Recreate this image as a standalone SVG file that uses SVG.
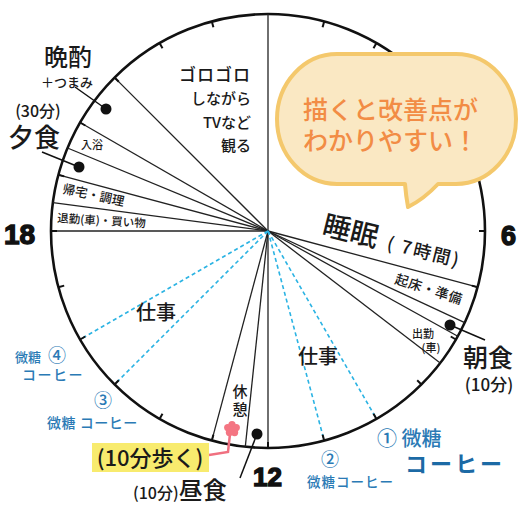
<svg xmlns="http://www.w3.org/2000/svg" width="520" height="506" viewBox="0 0 520 506">
<style>
text{font-family:"Noto Sans CJK JP","Noto Sans",sans-serif;fill:#1a1a1a;font-weight:500}
.rad{stroke:#222;stroke-width:1.3;fill:none}
.dash{stroke:#2bb3e3;stroke-width:1.6;stroke-dasharray:4 3;fill:none}
.tick{stroke:#111;stroke-width:2}
.ptr{stroke:#111;stroke-width:1.5;fill:none}
.dot{fill:#111}
.num{font-family:"Liberation Sans",Arial,sans-serif;font-weight:bold;stroke:#111;stroke-width:1.4;fill:#111}
.blue{fill:#2a7ab5}
.blue2{fill:#1c6aa5;font-weight:bold}
</style>
<rect width="520" height="506" fill="#fff"/>
<g id="clock">
<circle cx="268" cy="231" r="217" fill="#fff" stroke="#111" stroke-width="2.6"/>
</g>
<g id="connectors">
<line class="rad" x1="268" y1="231" x2="268" y2="14"/>
<line class="rad" x1="268" y1="231" x2="477.6" y2="287.2"/>
<line class="rad" x1="268" y1="231" x2="464.7" y2="322.7"/>
<line class="rad" x1="268" y1="231" x2="457.8" y2="336.2"/>
<line class="rad" x1="268" y1="231" x2="440.2" y2="363.1"/>
<line class="rad" x1="268" y1="231" x2="268" y2="448"/>
<line class="rad" x1="268" y1="231" x2="245.3" y2="446.8"/>
<line class="rad" x1="268" y1="231" x2="211.8" y2="440.6"/>
<line class="rad" x1="268" y1="231" x2="51" y2="231"/>
<line class="rad" x1="268" y1="231" x2="52.9" y2="202.7"/>
<line class="rad" x1="268" y1="231" x2="58.4" y2="174.8"/>
<line class="rad" x1="268" y1="231" x2="67.5" y2="148"/>
<line class="rad" x1="268" y1="231" x2="80.1" y2="122.5"/>
<line class="rad" x1="268" y1="231" x2="114.6" y2="77.6"/>
<line class="dash" x1="268" y1="231" x2="376.5" y2="418.9"/>
<line class="dash" x1="268" y1="231" x2="324.2" y2="440.6"/>
<line class="dash" x1="268" y1="231" x2="114.6" y2="384.4"/>
<line class="dash" x1="268" y1="231" x2="80.1" y2="339.5"/>
<g id="ticks">
<line class="tick" x1="268" y1="14" x2="268" y2="20" transform="rotate(15 268 231)"/>
<line class="tick" x1="268" y1="14" x2="268" y2="20" transform="rotate(30 268 231)"/>
<line class="tick" x1="268" y1="14" x2="268" y2="20" transform="rotate(45 268 231)"/>
<line class="tick" x1="268" y1="14" x2="268" y2="20" transform="rotate(60 268 231)"/>
<line class="tick" x1="268" y1="14" x2="268" y2="20" transform="rotate(75 268 231)"/>
<line class="tick" x1="268" y1="14" x2="268" y2="20" transform="rotate(90 268 231)"/>
<line class="tick" x1="268" y1="14" x2="268" y2="20" transform="rotate(105 268 231)"/>
<line class="tick" x1="268" y1="14" x2="268" y2="20" transform="rotate(120 268 231)"/>
<line class="tick" x1="268" y1="14" x2="268" y2="20" transform="rotate(135 268 231)"/>
<line class="tick" x1="268" y1="14" x2="268" y2="20" transform="rotate(150 268 231)"/>
<line class="tick" x1="268" y1="14" x2="268" y2="20" transform="rotate(165 268 231)"/>
<line class="tick" x1="268" y1="14" x2="268" y2="20" transform="rotate(180 268 231)"/>
<line class="tick" x1="268" y1="14" x2="268" y2="20" transform="rotate(195 268 231)"/>
<line class="tick" x1="268" y1="14" x2="268" y2="20" transform="rotate(210 268 231)"/>
<line class="tick" x1="268" y1="14" x2="268" y2="20" transform="rotate(225 268 231)"/>
<line class="tick" x1="268" y1="14" x2="268" y2="20" transform="rotate(240 268 231)"/>
<line class="tick" x1="268" y1="14" x2="268" y2="20" transform="rotate(255 268 231)"/>
<line class="tick" x1="268" y1="14" x2="268" y2="20" transform="rotate(270 268 231)"/>
<line class="tick" x1="268" y1="14" x2="268" y2="20" transform="rotate(285 268 231)"/>
<line class="tick" x1="268" y1="14" x2="268" y2="20" transform="rotate(300 268 231)"/>
<line class="tick" x1="268" y1="14" x2="268" y2="20" transform="rotate(315 268 231)"/>
<line class="tick" x1="268" y1="14" x2="268" y2="20" transform="rotate(330 268 231)"/>
<line class="tick" x1="268" y1="14" x2="268" y2="20" transform="rotate(345 268 231)"/>
</g>
<line class="ptr" x1="450" y1="325" x2="485" y2="340"/>
<line class="ptr" x1="257" y1="434" x2="240" y2="478"/>
<line class="ptr" x1="42" y1="152" x2="79" y2="167"/>
<line class="ptr" x1="75" y1="87" x2="106" y2="109"/>
<polyline points="230,434 228,452 209,455" fill="none" stroke="#f07080" stroke-width="2.5"/>
</g>
<g id="dots">
<circle class="dot" cx="450" cy="325" r="5.5"/>
<circle class="dot" cx="257" cy="434" r="5.5"/>
<circle class="dot" cx="79" cy="167" r="5.5"/>
<circle class="dot" cx="106" cy="109" r="5.5"/>
</g>
<g id="hours">
<text class="num" x="4" y="244" font-size="28">18</text>
<text class="num" x="501" y="245" font-size="27">6</text>
<text class="num" x="253" y="486" font-size="26">12</text>
</g>
<g id="sleep">
<text font-size="28" font-weight="bold" transform="translate(321 234) rotate(14)">睡眠</text>
<text font-size="18" transform="translate(386 249) rotate(14)" letter-spacing="2">( 7時間)</text>
</g>
<g id="wake"><text font-size="13.5" transform="translate(394 283) rotate(18)" letter-spacing="0.5">起床・準備</text></g>
<g id="commute"><text font-size="11" x="423" y="338" text-anchor="middle">出勤</text><text font-size="11" x="431" y="352" text-anchor="middle">(車)</text></g>
<g id="breakfast"><text font-size="25" x="488" y="367" text-anchor="middle">朝食</text><text font-size="17" x="489" y="391" text-anchor="middle">(10分)</text></g>
<g id="work-am"><text font-size="20" x="318" y="364" text-anchor="middle">仕事</text></g>
<g id="work-pm"><text font-size="20" x="156" y="320" text-anchor="middle">仕事</text></g>
<g id="break"><text font-size="15" x="240" y="397" text-anchor="middle">休</text><text font-size="15" x="240" y="415" text-anchor="middle">憩</text></g>
<g id="walk">
<rect x="92" y="443" width="117" height="29" fill="#f8eb6e"/>
<text font-size="22" x="150" y="466" text-anchor="middle">(10分歩く)</text>
<g fill="#f47582" transform="translate(232 429)">
<circle cx="0" cy="-4.5" r="3.6"/><circle cx="4.3" cy="-1.4" r="3.6"/><circle cx="2.6" cy="3.6" r="3.6"/><circle cx="-2.6" cy="3.6" r="3.6"/><circle cx="-4.3" cy="-1.4" r="3.6"/><circle r="3"/>
</g>
</g>
<g id="lunch"><text x="133" y="499"><tspan font-size="16">(10分)</tspan><tspan font-size="24">昼食</tspan></text></g>
<g id="coffee1"><text class="blue" font-size="20" x="377" y="446">① 微糖</text><text class="blue2" font-size="22" x="405" y="472" letter-spacing="3">コーヒー</text></g>
<g id="coffee2"><text class="blue" font-size="18" x="330" y="466" text-anchor="middle">②</text><text class="blue" font-size="13.5" x="307" y="487" letter-spacing="1">微糖コーヒー</text></g>
<g id="coffee3"><text class="blue" font-size="18" x="103" y="407" text-anchor="middle">③</text><text class="blue" font-size="14" x="47" y="428" letter-spacing="0.5">微糖 コーヒー</text></g>
<g id="coffee4"><text class="blue" font-size="13" x="15" y="362">微糖</text><text class="blue" font-size="18" x="48" y="362">④</text><text class="blue" font-size="14" x="22" y="380" letter-spacing="1.5">コーヒー</text></g>
<g id="commute-home"><text font-size="11.5" transform="translate(57 222) rotate(3.5)">退勤(車)・買い物</text></g>
<g id="cook"><text font-size="12.5" transform="translate(62 193) rotate(12)">帰宅・調理</text></g>
<g id="bath"><text font-size="11" x="92" y="149" text-anchor="middle">入浴</text></g>
<g id="dinner"><text font-size="16" x="38" y="117" text-anchor="middle">(30分)</text><text font-size="26" x="34" y="147" text-anchor="middle">夕食</text></g>
<g id="drink"><text font-size="24" x="68" y="66" text-anchor="middle">晩酌</text><text font-size="13" x="67" y="87" text-anchor="middle">＋つまみ</text></g>
<g id="relax">
<text font-size="17" font-weight="bold" x="251" y="81" text-anchor="end" letter-spacing="1">ゴロゴロ</text>
<text font-size="15" x="251" y="104" text-anchor="end">しながら</text>
<text font-size="15" x="251" y="128" text-anchor="end">TVなど</text>
<text font-size="15" x="251" y="151" text-anchor="end">観る</text>
</g>
<g id="bubble">
<path d="M337,54 H456 A60 65 0 0 1 456,184 H438 Q424 199 408 207 Q406 196 405 184 H337 A60 65 0 0 1 337,54 Z" fill="#fae8c3" stroke="#f4c86c" stroke-width="4" stroke-linejoin="round"/>
<text font-size="25" x="303" y="119" style="fill:#f28c45">描くと改善点が</text>
<text font-size="25" x="303" y="150" style="fill:#f28c45">わかりやすい！</text>
</g>
</svg>
